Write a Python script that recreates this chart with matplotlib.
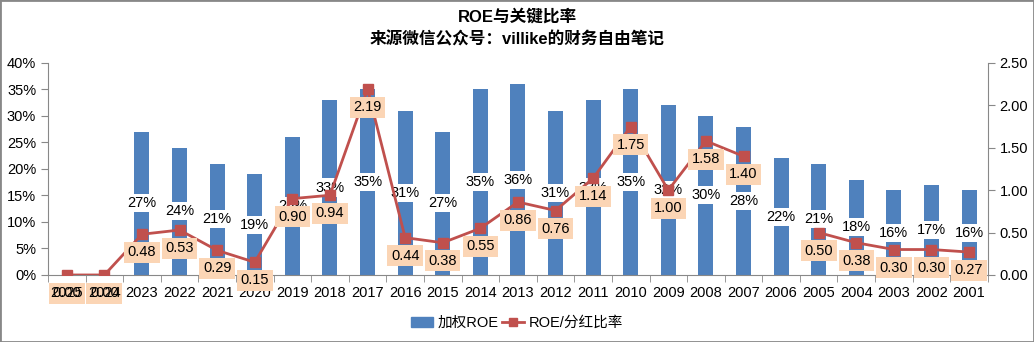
import numpy as np
import matplotlib.pyplot as plt
from matplotlib.patches import Rectangle
from matplotlib.lines import Line2D
from matplotlib.patches import Patch

plt.rcParams['font.family'] = ['Liberation Sans', 'Noto Sans CJK SC', 'DejaVu Sans']

years = ['2025', '2024', '2023', '2022', '2021', '2020', '2019', '2018', '2017',
         '2016', '2015', '2014', '2013', '2012', '2011', '2010', '2009', '2008',
         '2007', '2006', '2005', '2004', '2003', '2002', '2001']
roe = [0, 0, 27, 24, 21, 19, 26, 33, 35, 31, 27, 35, 36, 31, 33, 35, 32, 30,
       28, 22, 21, 18, 16, 17, 16]
ratio = [0.00, 0.00, 0.48, 0.53, 0.29, 0.15, 0.90, 0.94, 2.19, 0.44, 0.38, 0.55,
         0.86, 0.76, 1.14, 1.75, 1.00, 1.58, 1.40, np.nan, 0.50, 0.38, 0.30,
         0.30, 0.27]

BLUE = '#4F81BD'
RED = '#C0504D'
ORANGE = '#FBD5B5'
GRAY = '#888888'

fig = plt.figure(figsize=(10.34, 3.42), dpi=100)
ax = fig.add_axes([0.0464, 0.196, 0.909, 0.62])
x = np.arange(len(years))

ax.bar(x, roe, width=0.4, color=BLUE, zorder=2)
ax.set_xlim(-0.5, len(years) - 0.5)
ax.set_ylim(0, 40)
ax.set_yticks(np.arange(0, 41, 5))
ax.set_yticklabels([f'{v}%' for v in range(0, 41, 5)])
ax.set_xticks(x)
ax.set_xticklabels(years)
ax.set_xticks(np.arange(-0.5, len(years), 1), minor=True)
ax.tick_params(axis='x', which='major', length=0, labelbottom=False)
ax.tick_params(axis='x', which='minor', length=5, color=GRAY, direction='out')
ax.tick_params(axis='y', length=5, color=GRAY, labelsize=10.5)
for s in ['top', 'right']:
    ax.spines[s].set_visible(False)
for s in ['left', 'bottom']:
    ax.spines[s].set_color(GRAY)

# bar value labels, centred on the bar
for xi, v in zip(x, roe):
    if v > 0:
        ax.text(xi, v / 2, f'{v}%', ha='center', va='center', fontsize=10.5,
                zorder=3, bbox=dict(fc='white', ec='none', pad=1.5))

ax2 = ax.twinx()
ax2.set_ylim(0, 2.5)
ax2.set_yticks(np.arange(0, 2.51, 0.5))
ax2.set_yticklabels([f'{v:.2f}' for v in np.arange(0, 2.51, 0.5)])
ax2.tick_params(axis='y', length=5, color=GRAY, labelsize=10.5)
# year labels drawn by the top axes so they sit over the 0.00 boxes
ax2.xaxis.set_visible(True)
ax2.tick_params(axis='x', which='major', bottom=False, labelbottom=True,
                length=0, pad=8, labelsize=10.5)
ax2.tick_params(axis='x', which='minor', bottom=False)
for s in ['top', 'left', 'bottom']:
    ax2.spines[s].set_visible(False)
ax2.spines['right'].set_color(GRAY)

ax2.plot(x, ratio, color=RED, lw=2, marker='s', markersize=7,
         markerfacecolor=RED, markeredgecolor=RED, zorder=4)
for xi, v in zip(x, ratio):
    if np.isnan(v):
        continue
    ax2.annotate(f'{v:.2f}', (xi, v), xytext=(0, -13), textcoords='offset points',
                 ha='center', va='center', fontsize=10.5,
                 zorder=5 if v > 0 else 1,
                 bbox=dict(fc=ORANGE, ec='none', pad=2.5))

fig.text(0.5, 0.950, 'ROE与关键比率', ha='center', va='center',
         fontsize=12, fontweight='bold')
fig.text(0.5, 0.886, '来源微信公众号：villike的财务自由笔记', ha='center',
         va='center', fontsize=12, fontweight='bold')

handles = [Patch(color=BLUE),
           Line2D([], [], color=RED, lw=2, marker='s', markersize=6)]
fig.legend(handles, ['加权ROE', 'ROE/分红比率'], loc='center',
           bbox_to_anchor=(0.5, 0.055), ncol=2, frameon=False, fontsize=10.5,
           handlelength=1.5, columnspacing=0.3, handletextpad=0.3)

fig.patches.append(Rectangle((0, 0), 1, 1, transform=fig.transFigure,
                             fill=False, ec=GRAY, lw=2))

fig.savefig('out.png', dpi=100)
